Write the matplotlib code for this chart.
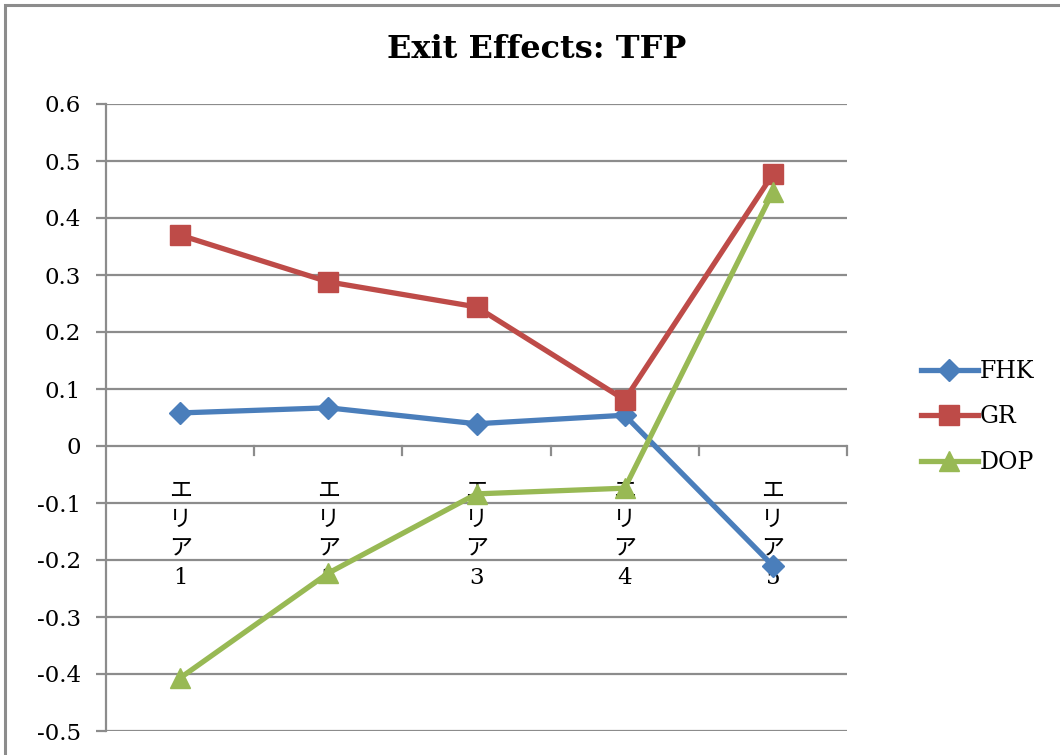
import matplotlib
matplotlib.use("Agg")
import matplotlib.pyplot as plt
from matplotlib.patches import Rectangle
import numpy as np

categories = ["エリア1", "エリア2", "エリア3", "エリア4", "エリア5"]
fhk = [0.058, 0.067, 0.039, 0.054, -0.210]
gr = [0.370, 0.288, 0.244, 0.081, 0.477]
dop = [-0.407, -0.223, -0.084, -0.074, 0.446]
yticks = [0.6, 0.5, 0.4, 0.3, 0.2, 0.1, 0, -0.1, -0.2, -0.3, -0.4, -0.5]
ytick_labels = ["0.6", "0.5", "0.4", "0.3", "0.2", "0.1", "0", "-0.1", "-0.2", "-0.3", "-0.4", "-0.5"]

W, H = 1060, 755
fig = plt.figure(figsize=(W / 100, H / 100), dpi=100)

# outer chart frame
fig.patches.append(Rectangle((5 / W, -0.1), 1.2, 1 - 5 / H + 0.1, transform=fig.transFigure,
                             fill=False, edgecolor="#8c8c8c", linewidth=2.2))

ax = fig.add_axes([106 / W, 1 - 731 / H, (847 - 106) / W, (731 - 104) / H])
ax.set_ylim(-0.5, 0.6)
ax.set_xlim(-0.5, 4.5)
x = np.arange(len(categories))

serif = ["DejaVu Serif", "Noto Sans CJK JP"]
grid_col = "#8c8c8c"

for v in yticks:
    ax.axhline(v, color=grid_col, lw=1.6, zorder=1)

ax.plot(x, fhk, color="#4A7EBB", lw=3.8, marker="D", markersize=11, label="FHK", zorder=3)
ax.plot(x, gr, color="#BE4B48", lw=3.8, marker="s", markersize=14, label="GR", zorder=3)
ax.plot(x, dop, color="#98B954", lw=3.8, marker="^", markersize=15, label="DOP", zorder=4)

for s in ["top", "right", "bottom"]:
    ax.spines[s].set_visible(False)
ax.spines["left"].set_color(grid_col)
ax.spines["left"].set_linewidth(1.6)

ax.set_yticks(yticks)
ax.set_yticklabels(ytick_labels, fontfamily=serif, fontsize=16.5)
ax.tick_params(axis="y", length=7.2, width=1.6, color=grid_col, pad=11)
ax.set_xticks([])

# category boundary ticks hanging from the zero line
for b in np.arange(0.5, 5, 1.0):
    ax.plot([b, b], [0, -0.016], color=grid_col, lw=1.6, zorder=1, clip_on=False)

# vertically stacked category labels just below zero
for xi, c in zip(x, categories):
    ax.text(xi, -0.06, "\n".join(list(c)), ha="center", va="top", fontsize=16.5,
            family=serif, linespacing=1.4, zorder=2)

fig.text(537 / W, 1 - 50 / H, "Exit Effects: TFP", ha="center", va="center",
         fontsize=23, fontweight="bold", family=serif)

handles, labels = ax.get_legend_handles_labels()
fig.legend(handles, labels, loc="center left", bbox_to_anchor=(921 / W, 1 - 417 / H),
           frameon=False, prop={"family": serif, "size": 17}, handlelength=2.4,
           handletextpad=0.1, labelspacing=0.95, borderaxespad=0, borderpad=0)

fig.savefig("out.png", dpi=100)
